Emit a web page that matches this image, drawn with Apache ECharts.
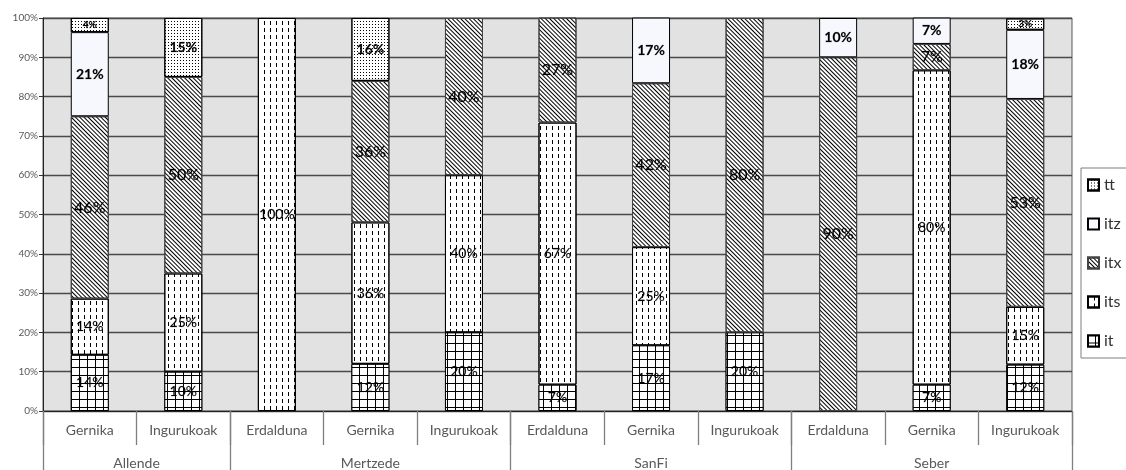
<!DOCTYPE html>
<html>
<head>
<meta charset="utf-8">
<script src="https://cdn.jsdelivr.net/npm/echarts@6/dist/echarts.min.js"></script>
<style>
html,body{margin:0;padding:0;background:#fff;}
#c{width:1126px;height:470px;}
</style>
</head>
<body>
<div id="c"></div>
<script>
// ---- data ----
const categories = ['Gernika','Ingurukoak','Erdalduna','Gernika','Ingurukoak','Erdalduna','Gernika','Ingurukoak','Erdalduna','Gernika','Ingurukoak'];
const groups = ['Allende','Mertzede','SanFi','Seber'];
const groupSizes = [2,3,3,3];
const it  = [14.3, 10, 0, 12, 20, 6.7, 16.7, 20, 0, 6.7, 11.8];
const its = [14.3, 25, 100, 36, 40, 66.7, 25, 0, 0, 80, 14.7];
const itx = [46.4, 50, 0, 36, 40, 26.7, 41.7, 80, 90, 6.7, 52.9];
const itz = [21.4, 0, 0, 0, 0, 0, 16.7, 0, 10, 6.7, 17.6];
const tt  = [3.6, 15, 0, 16, 0, 0, 0, 0, 0, 0, 2.9];
const yTicks = [0,10,20,30,40,50,60,70,80,90,100];

const FONT = 'Lato';

// group axis: half-category slots
const nSlots = categories.length * 2 + 1;
const groupData = new Array(nSlots).fill('');
const boundaryIdx = new Set([0]);
const centerIdx = new Set();
let pos = 0;
groups.forEach((g, i) => {
  const c = pos * 2 + groupSizes[i];
  groupData[c] = g;
  centerIdx.add(c);
  pos += groupSizes[i];
  boundaryIdx.add(pos * 2);
});

function mk(arr, bigSize, bold) {
  return arr.map(v => v > 0 ? {
    value: v,
    label: { fontSize: v < 5 ? 10 : bigSize, fontWeight: bold ? 'bold' : 'normal' }
  } : '-');
}

const baseSeries = {
  type: 'bar', stack: 'all', barWidth: 38,
  label: { show: true, position: 'inside', color: '#000', fontFamily: FONT,
           textBorderColor: 'rgba(0,0,0,0.35)', textBorderWidth: 0.4,
           formatter: p => Math.round(p.value) + '%' },
  emphasis: { disabled: true }
};

const seriesDefs = [
  { name: 'it', data: mk(it, 14, false),
    itemStyle: { color: '#000', borderColor: '#000', borderWidth: 1,
      decal: { symbol: 'rect', symbolSize: 1, color: '#fff', dashArrayX: [7,1], dashArrayY: [7,1] } } },
  { name: 'its', data: mk(its, 14, false),
    itemStyle: { color: '#fff', borderColor: '#000', borderWidth: 1,
      decal: { symbol: 'rect', symbolSize: 1, color: '#000', dashArrayX: [1,5], dashArrayY: [4,3] } } },
  { name: 'itx', data: mk(itx, 16, false),
    itemStyle: { color: '#fff', borderColor: '#444', borderWidth: 1,
      decal: { symbol: 'rect', symbolSize: 1, color: '#000', dashArrayX: [1,2], dashArrayY: [10,0], rotation: -Math.PI/4 } } },
  { name: 'itz', data: mk(itz, 14, true),
    itemStyle: { color: '#f7f8fe', borderColor: '#000', borderWidth: 1 } },
  { name: 'tt', data: mk(tt, 14, true),
    itemStyle: { color: '#fff', borderColor: '#000', borderWidth: 1,
      decal: { symbol: 'rect', symbolSize: 1, color: '#000', dashArrayX: [1,2], dashArrayY: [1,2] } } }
];

const series = seriesDefs.map(s => Object.assign({}, baseSeries, s, { xAxisIndex: 0, yAxisIndex: 0 }));

const gridPos = { left: 43, right: 54, top: 18, bottom: 59 };

const option = {
  animation: false,
  textStyle: { fontFamily: FONT },
  grid: [
    Object.assign({ show: true, backgroundColor: '#e2e2e2', borderColor: '#595959', borderWidth: 1 }, gridPos),
    Object.assign({ show: false }, gridPos)
  ],
  legend: {
    orient: 'vertical', left: 1081, top: 168,
    data: ['tt','itz','itx','its','it'],
    icon: 'rect',
    itemWidth: 11, itemHeight: 11, itemGap: 23,
    padding: [9, 6, 9, 6],
    borderColor: '#7f7f7f', borderWidth: 1,
    textStyle: { fontSize: 16, color: '#333', fontFamily: FONT, width: 60, lineHeight: 16 },
    selectedMode: false
  },
  xAxis: [
    { type: 'category', gridIndex: 0, data: categories, position: 'bottom',
      axisLine: { show: true, lineStyle: { color: '#222', width: 1 } },
      axisTick: { show: true, interval: 0, length: 34, lineStyle: { color: '#7f7f7f', width: 1.3 } },
      axisLabel: { interval: 0, margin: 12, fontSize: 14, color: '#595959', fontFamily: FONT } },
    { type: 'category', gridIndex: 1, data: groupData, position: 'bottom', boundaryGap: false,
      axisLine: { show: false },
      axisTick: { show: true, length: 59, interval: (i) => boundaryIdx.has(i), lineStyle: { color: '#7f7f7f', width: 1.3 } },
      axisLabel: { interval: (i) => centerIdx.has(i), margin: 45, fontSize: 14, color: '#595959', fontFamily: FONT } }
  ],
  yAxis: [
    { type: 'value', gridIndex: 0, min: yTicks[0], max: yTicks[yTicks.length-1], interval: 10,
      axisLine: { show: true, lineStyle: { color: '#222', width: 1 } },
      axisTick: { show: true, length: 4, lineStyle: { color: '#333' } },
      axisLabel: { formatter: '{value}%', fontSize: 10, color: '#595959', margin: 5, fontFamily: FONT },
      splitLine: { show: true, lineStyle: { color: '#4a4a4a', width: 1.3 } } },
    { type: 'value', gridIndex: 1, show: false, min: 0, max: 100 }
  ],
  series: series
};

const chart = echarts.init(document.getElementById('c'), null, { renderer: 'canvas' });
chart.setOption(option);
</script>
</body>
</html>
